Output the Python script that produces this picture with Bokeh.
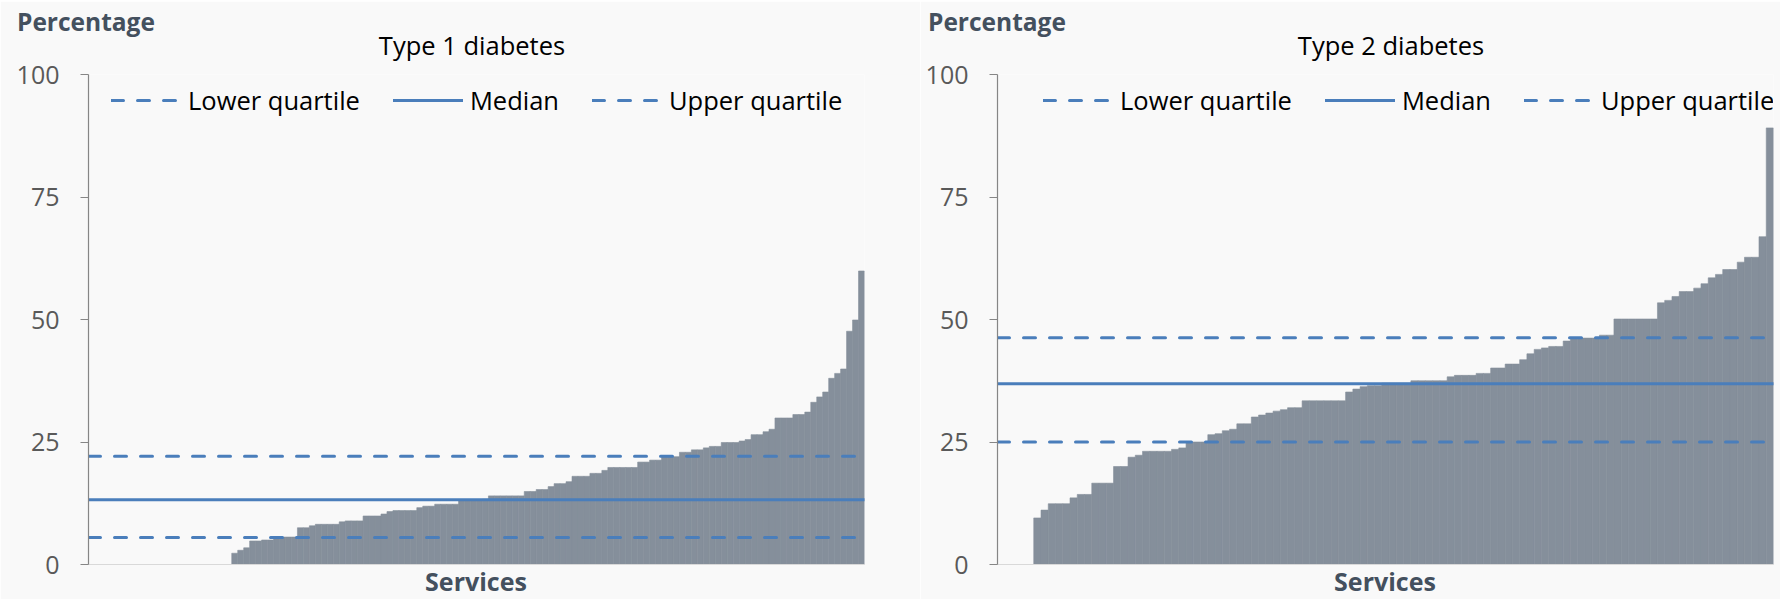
from bokeh.plotting import figure
from bokeh.models import Range1d, FixedTicker, Legend, LegendItem, Div
from bokeh.layouts import row, column
from bokeh.embed import file_html
from bokeh.resources import INLINE

# ---------------- data ----------------
y_ticks = [0, 25, 50, 75, 100]
legend_labels = ["Lower quartile", "Median", "Upper quartile"]
panel_titles = ["Type 1 diabetes", "Type 2 diabetes"]
y_title = "Percentage"
x_title = "Services"

# Type 1 diabetes: percentage per service, sorted (130 services)
type1_values = [
    0, 0, 0, 0, 0, 0, 0, 0, 0, 0, 0, 0, 0, 0, 0, 0, 0, 0, 0, 0, 0, 0, 0, 0,
    2.3, 2.9, 3.4, 4.8, 4.8, 5.0, 5.0, 5.3, 5.6, 5.6, 5.6, 7.5, 7.5, 7.9,
    8.2, 8.2, 8.2, 8.2, 8.7, 8.9, 8.9, 8.9, 9.9, 9.9, 9.9, 10.3, 10.8,
    11.0, 11.0, 11.0, 11.0, 11.6, 11.9, 11.9,
    12.3, 12.3, 12.3, 12.3, 13.0, 13.0, 13.0, 13.0, 13.3,
    14.0, 14.0, 14.0, 14.0, 14.0, 14.0, 14.9, 14.9, 15.3, 15.3, 15.9,
    16.5, 16.5, 16.9, 18.0, 18.0, 18.0, 18.6, 18.6, 19.2,
    19.8, 19.8, 19.8, 19.8, 19.8, 20.9, 20.9, 21.3, 21.3,
    22.0, 22.0, 22.0, 22.9, 22.9, 23.4, 23.4, 23.8, 24.1, 24.1,
    24.9, 24.9, 24.9, 25.2, 25.5, 26.5, 26.5, 27.1, 27.6,
    29.9, 29.9, 29.9, 30.6, 30.6, 31.1, 33.1, 34.2, 35.2,
    38.0, 39.0, 39.9, 47.6, 49.9, 59.9,
]
type1_quartiles = [5.5, 13.2, 22.1]   # lower quartile, median, upper quartile

# Type 2 diabetes: percentage per service, sorted (107 services)
type2_values = [
    0, 0, 0, 0, 0,
    9.5, 11.1, 12.4, 12.4, 12.4, 13.6, 14.3, 14.3, 16.6, 16.6, 16.6,
    20.0, 20.0, 21.9, 22.3, 23.1, 23.1, 23.1, 23.1, 23.5, 23.8,
    25.0, 25.0, 25.0, 26.5, 26.7, 27.3, 27.6, 28.7, 28.7,
    30.1, 30.5, 30.9, 31.3, 31.6, 32.0, 32.0,
    33.4, 33.4, 33.4, 33.4, 33.4, 33.4, 35.2, 35.8, 36.3, 36.5, 36.5,
    37.0, 37.0, 37.0, 37.0, 37.5, 37.5, 37.5, 37.5, 37.5,
    38.3, 38.6, 38.6, 38.6, 39.0, 39.0, 40.1, 40.1, 40.9, 40.9,
    41.8, 43.0, 43.9, 44.2, 44.5, 44.5, 45.6, 46.2, 46.2, 46.2, 46.2,
    46.8, 46.8, 50.1, 50.1, 50.1, 50.1, 50.1, 50.1,
    53.4, 53.9, 54.7, 55.7, 55.7, 56.4, 57.3, 58.5, 59.2,
    60.2, 60.2, 61.7, 62.7, 62.7, 66.9, 89.1,
]
type2_quartiles = [25.0, 36.9, 46.3]

# ---------------- styling ----------------
BAR = "#858f9b"
LINE = "#4a7ebb"
BG = "#f9f9f9"
FONT = "Open Sans"
DARK = "#44505e"
TICKC = "#595959"
PAGE_W = 1780
FIG_H = 598


def span(text, left, top, size, bold, color, center=False, lh=34):
    weight = "bold" if bold else "normal"
    if center:
        pos = f"left:{left - 200}px;width:400px;text-align:center;"
    else:
        pos = f"left:{left}px;"
    return (f'<span style="position:absolute;{pos}top:{top}px;'
            f"font-family:'{FONT}';font-weight:{weight};font-size:{size};"
            f'line-height:{lh}px;color:{color};white-space:nowrap;">{text}</span>')


# text overlay (axis titles and panel titles), laid over the two plots
overlay_html = (
    f'<div style="position:absolute;left:0;top:0;width:{PAGE_W}px;height:{FIG_H}px;'
    f'overflow:hidden;pointer-events:none;">'
    + span(y_title, 17, 5, "24.5px", True, DARK)
    + span(y_title, 928, 5, "24.5px", True, DARK)
    + span(panel_titles[0], 472, 28, "25.5px", False, "#000000", center=True)
    + span(panel_titles[1], 1391, 28, "25.5px", False, "#000000", center=True)
    + span(x_title, 476, 568, "25px", True, DARK, center=True, lh=26)
    + span(x_title, 1385, 568, "25px", True, DARK, center=True, lh=26)
    + '</div>'
)
overlay = Div(text=overlay_html, width=PAGE_W, height=1, margin=0,
              styles={"position": "relative", "z-index": "10", "overflow": "visible"})


def make_panel(values, quartiles, width, b_left, b_right, b_top, b_bottom, legend_xy):
    n = len(values)
    p = figure(width=width, height=FIG_H, output_backend="svg", toolbar_location=None,
               x_range=Range1d(0, n), y_range=Range1d(0, 100),
               min_border_left=b_left, min_border_right=b_right,
               min_border_top=b_top, min_border_bottom=b_bottom)
    p.background_fill_color = BG
    p.border_fill_color = BG
    p.outline_line_color = None
    p.grid.visible = False

    xs = [i + 0.5 for i in range(n)]
    p.vbar(x=xs, top=values, bottom=0, width=1.0, fill_color=BAR,
           line_color=BAR, line_width=0.6)

    dashes = ["12 14", "solid", "12 14"]
    items = []
    for q, lab, dash in zip(quartiles, legend_labels, dashes):
        r = p.line(x=[0, n], y=[q, q], line_color=LINE, line_width=3,
                   line_dash=dash, line_cap="round")
        items.append(LegendItem(label=lab, renderers=[r]))

    leg = Legend(items=items, orientation="horizontal", location=legend_xy,
                 glyph_width=70, glyph_height=20, label_standoff=7, spacing=33,
                 padding=0, margin=0, background_fill_alpha=0, border_line_alpha=0,
                 label_text_font=FONT, label_text_font_size="25.5px",
                 label_text_color="#000000")
    p.add_layout(leg)

    # y axis
    p.yaxis.ticker = FixedTicker(ticks=y_ticks)
    p.yaxis.axis_line_color = "#868686"
    p.yaxis.axis_line_width = 1.2
    p.yaxis.major_tick_line_color = "#868686"
    p.yaxis.major_tick_in = 0
    p.yaxis.major_tick_out = 8
    p.yaxis.minor_tick_line_color = None
    p.yaxis.major_label_standoff = 21
    p.yaxis.major_label_text_font = FONT
    p.yaxis.major_label_text_font_size = "25px"
    p.yaxis.major_label_text_color = TICKC

    # x axis: baseline only (its title is in the overlay)
    p.xaxis.ticker = FixedTicker(ticks=[])
    p.xaxis.axis_line_color = "#d9d9d9"
    p.xaxis.major_tick_line_color = None
    p.xaxis.minor_tick_line_color = None
    p.xaxis.major_tick_out = 0
    p.xaxis.major_label_standoff = 0
    p.xaxis.major_label_text_font_size = "0px"
    return p


p1 = make_panel(type1_values, type1_quartiles, width=920,
                b_left=88, b_right=56, b_top=73, b_bottom=35, legend_xy=(23, 447))
p2 = make_panel(type2_values, type2_quartiles, width=PAGE_W - 920,
                b_left=77, b_right=7, b_top=73, b_bottom=35, legend_xy=(46, 447))

layout = column(overlay, row(p1, p2, spacing=0), spacing=0)

open("out.html", "w").write(file_html(layout, INLINE))
